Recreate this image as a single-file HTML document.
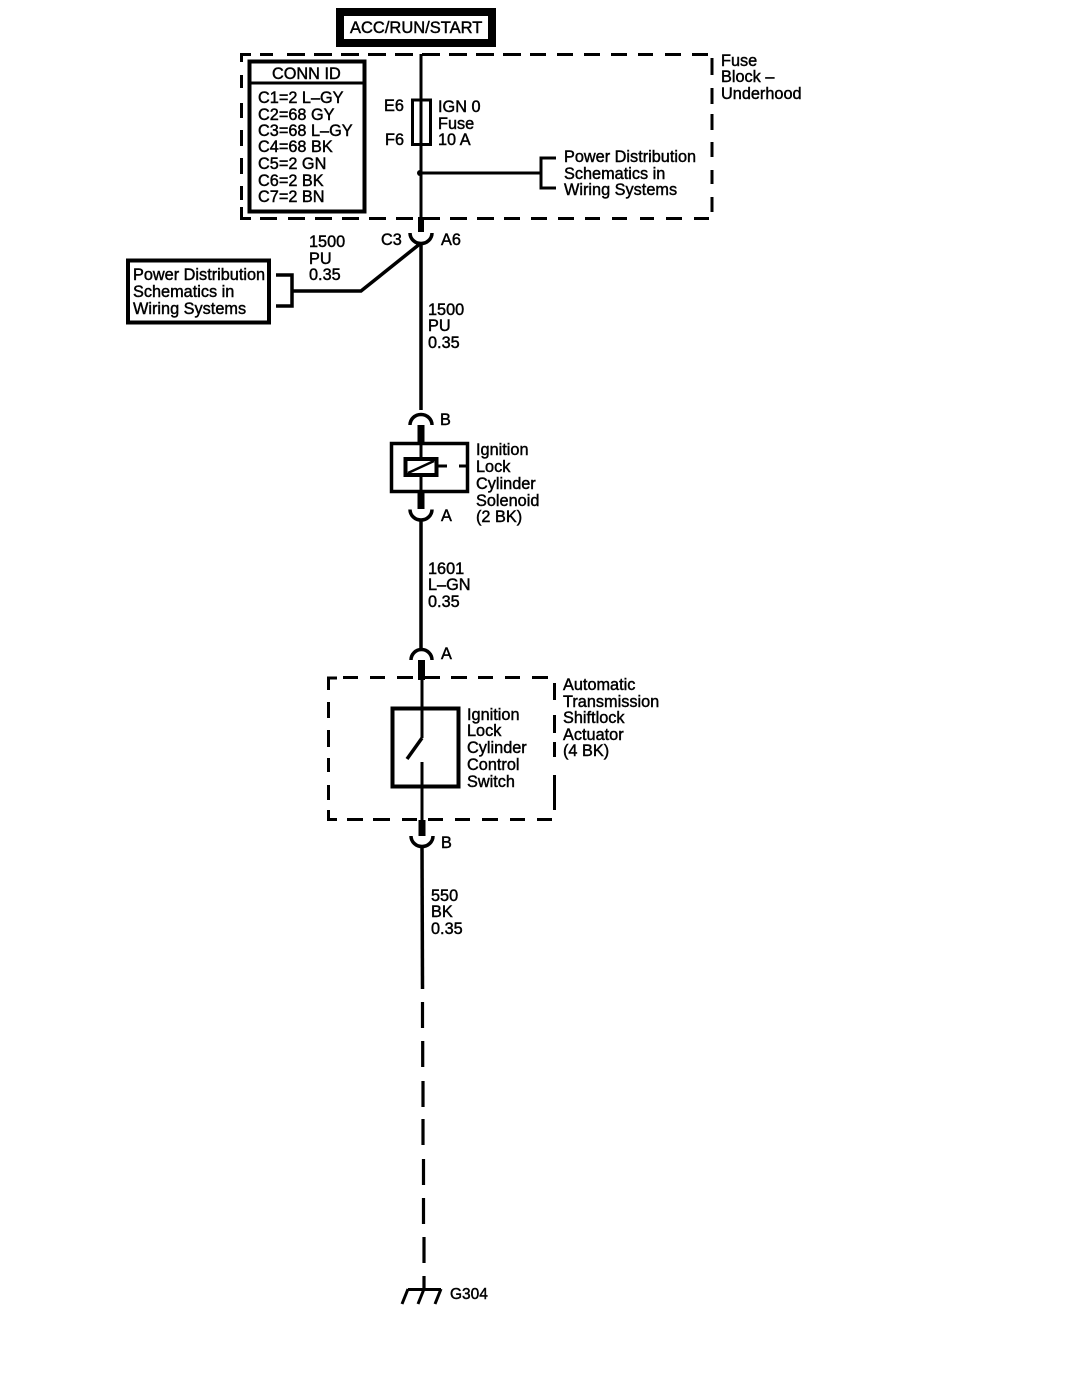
<!DOCTYPE html>
<html><head><meta charset="utf-8"><style>
html,body{margin:0;padding:0;background:#fff}
svg{display:block}
text{font-family:"Liberation Sans",sans-serif;font-size:16.3px;fill:#000;stroke:#000;stroke-width:.45}
</style></head><body>
<svg width="1092" height="1376" viewBox="0 0 1092 1376" xmlns="http://www.w3.org/2000/svg">
<rect width="1092" height="1376" fill="#fff"/>
<g fill="none" stroke="#000" stroke-width="3">
<rect x="340" y="12" width="152" height="31" stroke-width="8"/>
<path d="M251 54.500H241.500V62M241.500 75V88M241.500 103V118M241.500 130V146M241.500 158V174M241.500 186V200M241.500 207V218.500H251M712 58V75M712 88V104M712 114V130M712 142V157M712 170V184M712 197V212"/>
<path d="M260 54.500H273M287 54.500H305M314 54.500H332M341 54.500H359M368 54.500H386M395 54.500H413M422 54.500H440M449 54.500H467M476 54.500H494M503 54.500H521M530 54.500H546M557 54.500H573M584 54.500H600M611 54.500H627M638 54.500H653M665 54.500H681M692 54.500H708"/>
<path d="M260 218.500H277M288 218.500H305M315 218.500H332M342 218.500H359M369 218.500H386M396 218.500H413M423 218.500H440M450 218.500H467M477 218.500H494M504 218.500H520M531 218.500H547M558 218.500H574M585 218.500H600M612 218.500H627M640 218.500H654M666 218.500H682M694 218.500H709"/>
<rect x="249.500" y="61.500" width="115" height="150" stroke-width="4"/>
<line x1="249" y1="83" x2="365" y2="83"/>
<line x1="421" y1="54" x2="421" y2="232"/>
<rect x="412.500" y="100" width="18" height="44.500"/>
<line x1="421" y1="173" x2="541" y2="173"/>
<path d="M556 158H541V188H556"/>
<circle cx="420" cy="173" r="3" fill="#000" stroke="none"/>
<line x1="421" y1="217" x2="421" y2="232" stroke-width="6"/>
<path d="M410 233A11 10.500 0 0 0 432 233" stroke-width="3.500"/>
<path d="M421 243L361 291H292" stroke-width="3.500"/>
<path d="M276 275H292V306H276" stroke-width="3.500"/>
<rect x="128" y="260.500" width="141" height="62" stroke-width="4"/>
<line x1="421" y1="243" x2="421" y2="410" stroke-width="3.500"/>
<path d="M410 425A11 10.500 0 0 1 432 425" stroke-width="3.500"/>
<line x1="421" y1="425" x2="421" y2="443" stroke-width="7"/>
<rect x="391.500" y="443.500" width="76" height="48" stroke-width="3.500"/>
<line x1="421" y1="443" x2="421" y2="458"/>
<rect x="405.500" y="459" width="31" height="16" stroke-width="4"/>
<line x1="408" y1="473" x2="434" y2="461" stroke-width="2.500"/>
<line x1="421" y1="475" x2="421" y2="492"/>
<line x1="437" y1="466" x2="447" y2="466"/>
<line x1="459" y1="466" x2="468" y2="466"/>
<line x1="421" y1="492" x2="421" y2="509" stroke-width="7"/>
<path d="M410 509.500A11 10.500 0 0 0 432 509.500" stroke-width="3.500"/>
<line x1="421" y1="520" x2="421" y2="648" stroke-width="3.500"/>
<path d="M411 660A10.500 10.500 0 0 1 432 660" stroke-width="3.500"/>
<line x1="421.500" y1="660" x2="421.500" y2="680" stroke-width="7"/>
<path d="M328.500 690V678H337M343 677.500H358M370 677.500H385M397 677.500H413M423 677.500H440M451 677.500H467M478 677.500H493M505 677.500H520M532 677.500H548M328.500 702V718M328.500 730V747M328.500 758V772M328.500 785V800M328.500 810V819.500H337M347 819.500H363M373 819.500H390M402 819.500H417M428 819.500H443M455 819.500H470M482 819.500H498M510 819.500H525M537 819.500H552M554.500 683V700M554.500 715V733M554.500 742V757M554.500 775V810"/>
<line x1="422" y1="680" x2="422" y2="738"/>
<rect x="392.500" y="708.500" width="66" height="78" stroke-width="4"/>
<line x1="422" y1="738" x2="407" y2="759" stroke-width="3.500"/>
<line x1="422" y1="762" x2="422" y2="820"/>
<line x1="422" y1="820" x2="422" y2="836" stroke-width="7"/>
<path d="M411 836A11 10.500 0 0 0 433 836" stroke-width="3.500"/>
<line x1="422" y1="846" x2="422.500" y2="989" stroke-width="3.500"/>
<path d="M422.500 1002V1028M422.700 1041V1067M423 1081V1107M423 1119V1145M423.500 1159V1185M423.500 1198V1224M424 1237V1263M424 1276V1290" stroke-width="3.200"/>
<line x1="408" y1="1289.500" x2="441" y2="1289.500"/>
<path d="M408 1289L402 1304M424 1289L418 1304M441 1289L435 1304" stroke-width="3"/>
</g>
<text x="350" y="33" style="font-size:16.500px">ACC/RUN/START</text>
<text x="721" y="66">Fuse</text>
<text x="721" y="82">Block –</text>
<text x="721" y="99">Underhood</text>
<text x="272" y="79">CONN ID</text>
<text x="258" y="103">C1=2 L–GY</text>
<text x="258" y="120">C2=68 GY</text>
<text x="258" y="136">C3=68 L–GY</text>
<text x="258" y="152">C4=68 BK</text>
<text x="258" y="169">C5=2 GN</text>
<text x="258" y="186">C6=2 BK</text>
<text x="258" y="202">C7=2 BN</text>
<text x="384" y="111">E6</text>
<text x="385" y="145">F6</text>
<text x="438" y="112">IGN 0</text>
<text x="438" y="129">Fuse</text>
<text x="438" y="145">10 A</text>
<text x="564" y="162">Power Distribution</text>
<text x="564" y="179">Schematics in</text>
<text x="564" y="195">Wiring Systems</text>
<text x="381" y="245">C3</text>
<text x="441" y="245">A6</text>
<text x="309" y="247">1500</text>
<text x="309" y="264">PU</text>
<text x="309" y="280">0.35</text>
<text x="133" y="280">Power Distribution</text>
<text x="133" y="297">Schematics in</text>
<text x="133" y="314">Wiring Systems</text>
<text x="428" y="315">1500</text>
<text x="428" y="331">PU</text>
<text x="428" y="348">0.35</text>
<text x="440" y="425">B</text>
<text x="476" y="455">Ignition</text>
<text x="476" y="472">Lock</text>
<text x="476" y="489">Cylinder</text>
<text x="476" y="506">Solenoid</text>
<text x="476" y="522">(2 BK)</text>
<text x="441" y="521">A</text>
<text x="428" y="574">1601</text>
<text x="428" y="590">L–GN</text>
<text x="428" y="607">0.35</text>
<text x="441" y="659">A</text>
<text x="563" y="690">Automatic</text>
<text x="563" y="707">Transmission</text>
<text x="563" y="723">Shiftlock</text>
<text x="563" y="740">Actuator</text>
<text x="563" y="756">(4 BK)</text>
<text x="467" y="720">Ignition</text>
<text x="467" y="736">Lock</text>
<text x="467" y="753">Cylinder</text>
<text x="467" y="770">Control</text>
<text x="467" y="787">Switch</text>
<text x="441" y="848">B</text>
<text x="431" y="901">550</text>
<text x="431" y="917">BK</text>
<text x="431" y="934">0.35</text>
<text x="450" y="1299" style="font-size:15.500px">G304</text>
</svg>
</body></html>
